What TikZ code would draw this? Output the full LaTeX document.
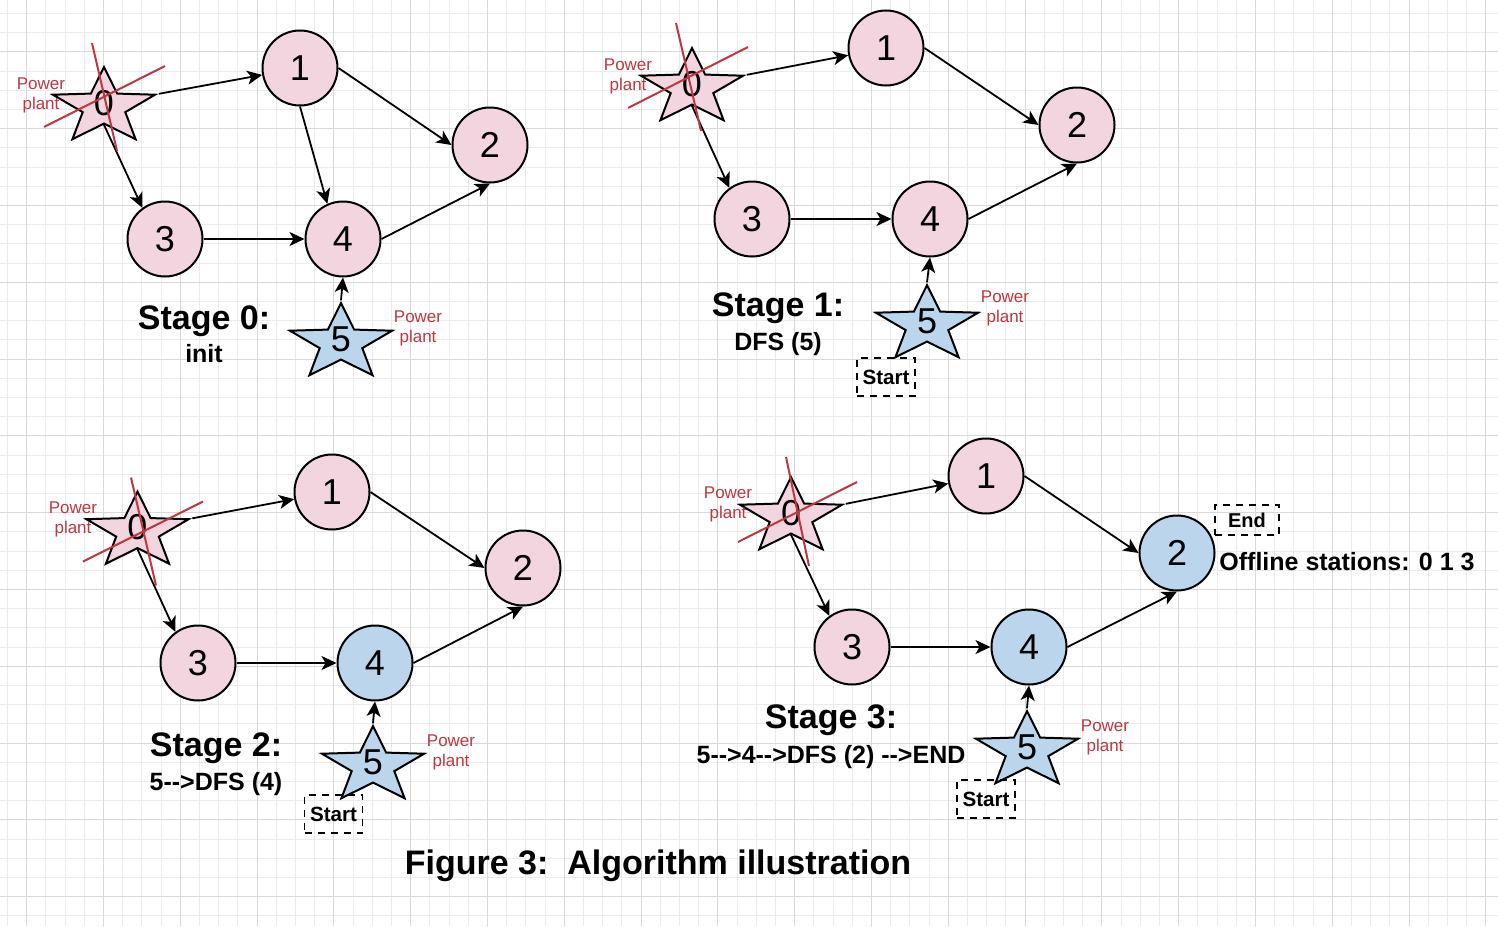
\documentclass[tikz,border=0pt]{standalone}
\usepackage{fontspec}
\setmainfont{Liberation Sans}
\usepackage{tikz}
\usetikzlibrary{shapes.geometric, arrows.meta, positioning}

\definecolor{pinkfill}{RGB}{242,213,223}
\definecolor{bluefill}{RGB}{186,213,236}
\definecolor{plantred}{RGB}{190,55,65}
\newcommand{\dashto}{-\kern0pt->}

\begin{document}
\begin{tikzpicture}[
    x=0.5pt, y=-0.5pt,
    station/.style={circle, draw, line width=1pt, minimum size=37.5pt, inner sep=0pt, fill=pinkfill, font=\fontsize{18}{20}\selectfont},
    plant/.style={star, star points=5, star point ratio=2.4, minimum size=39.8pt, inner sep=0pt, draw, line width=1pt, transform shape},
    num/.style={inner sep=0pt, font=\fontsize{18}{20}\selectfont},
    plantlabel/.style={align=center, text=plantred, inner sep=0pt, font=\fontsize{8.5}{10}\selectfont},
    stagename/.style={anchor=base, inner sep=0pt, font=\fontsize{17}{20}\selectfont\bfseries},
    stagestep/.style={anchor=base, inner sep=0pt, font=\fontsize{12.5}{15}\selectfont\bfseries},
    markbox/.style={draw, dash pattern=on 3.5pt off 3pt, line width=0.8pt, inner sep=0pt, minimum height=19pt, minimum width=29pt, font=\fontsize{10.3}{12}\selectfont\bfseries},
    arrow/.style={-{Stealth[length=7.5pt, width=7pt, inset=2pt]}, line width=0.9pt},
    crossline/.style={draw=plantred, line width=1pt},
    gridminor/.style={black!8, line width=0.5pt},
    gridmajor/.style={black!15, line width=0.5pt}
]

\useasboundingbox (0,0) rectangle (1498,926);
\fill[white] (0,0) rectangle (1498,926);
\begin{scope}[shift={(26.7,51.9)}]
  \draw[gridminor] (-26.7,874.1) grid[step=9.6pt] (1471.3,-51.9);
  \draw[gridmajor] (-26.7,874.1) grid[step=38.4pt] (1471.3,-51.9);
\end{scope}

% Stage 0
\node[station] (a1) at (300,68) {1};
\node[station] (a2) at (490,145) {2};
\node[station] (a3) at (165,239) {3};
\node[station] (a4) at (343,239) {4};
\begin{scope}[shift={(104,107)}, xscale=1.35]
  \node[plant, fill=pinkfill] (a0) {};
\end{scope}
\begin{scope}[shift={(341,343)}, xscale=1.35]
  \node[plant, fill=bluefill] (a5) {};
\end{scope}
\node[num] (a0num) at ([yshift=2pt]a0.center) {0};
\node[num] (a5num) at ([yshift=2pt]a5.center) {5};
\node[plantlabel] (a0lbl) at (41,95) {Power\\plant};
\node[plantlabel] (a5lbl) at (418,328) {Power\\plant};
\node[stagename] (astage) at (204,329) {Stage 0:};
\node[stagestep] (astep) at (204,362) {init};

\draw[arrow] (a0.outer point 5) -- (a1);
\draw[arrow] (a0.inner point 3) -- (a3.126);
\draw[arrow] (a1.east) -- (a2.west);
\draw[arrow] (a1.south) -- (a4.114);
\draw[arrow] (a3.east) -- (a4.west);
\draw[arrow] (a4.east) -- (a2.south);
\draw[arrow] (a5.outer point 1) -- (a4.south);
\draw[crossline] ([shift={(-12,-64)}]a0.center) -- ++(25,108);
\draw[crossline] ([shift={(-60,20)}]a0.center) -- ++(121,-61);

% Stage 1
\node[station] (b1) at (886,48) {1};
\node[station] (b2) at (1077,125) {2};
\node[station] (b3) at (752,219) {3};
\node[station] (b4) at (930,219) {4};
\begin{scope}[shift={(692,88)}, xscale=1.35]
  \node[plant, fill=pinkfill] (b0) {};
\end{scope}
\begin{scope}[shift={(927,325)}, xscale=1.35]
  \node[plant, fill=bluefill] (b5) {};
\end{scope}
\node[num] (b0num) at ([yshift=2pt]b0.center) {0};
\node[num] (b5num) at ([yshift=2pt]b5.center) {5};
\node[plantlabel] (b0lbl) at (628,76) {Power\\plant};
\node[plantlabel] (b5lbl) at (1005,308) {Power\\plant};
\node[stagename] (bstage) at (778,316) {Stage 1:};
\node[stagestep] (bstep) at (778,350) {DFS (5)};
\node[markbox] (bstart) at (886,377) {Start};

\draw[arrow] (b0.outer point 5) -- (b1);
\draw[arrow] (b0.inner point 3) -- (b3.126);
\draw[arrow] (b1.east) -- (b2.west);
\draw[arrow] (b3.east) -- (b4.west);
\draw[arrow] (b4.east) -- (b2.south);
\draw[arrow] (b5.outer point 1) -- (b4.south);
\draw[crossline] ([shift={(-16,-65)}]b0.center) -- ++(25,108);
\draw[crossline] ([shift={(-64,20)}]b0.center) -- ++(120,-61);

% Stage 2
\node[station] (c1) at (332,492) {1};
\node[station] (c2) at (523,568) {2};
\node[station] (c3) at (198,663) {3};
\node[station, fill=bluefill] (c4) at (375,663) {4};
\begin{scope}[shift={(137.5,531.5)}, xscale=1.35]
  \node[plant, fill=pinkfill] (c0) {};
\end{scope}
\begin{scope}[shift={(373,766)}, xscale=1.35]
  \node[plant, fill=bluefill] (c5) {};
\end{scope}
\node[num] (c0num) at ([yshift=2pt]c0.center) {0};
\node[num] (c5num) at ([yshift=2pt]c5.center) {5};
\node[plantlabel] (c0lbl) at (73,519) {Power\\plant};
\node[plantlabel] (c5lbl) at (451,752) {Power\\plant};
\node[stagename] (cstage) at (216,756) {Stage 2:};
\node[stagestep] (cstep) at (216,790) {5\dashto DFS (4)};
\node[markbox] (cstart) at (333.5,814) {Start};

\draw[arrow] (c0.outer point 5) -- (c1);
\draw[arrow] (c0.inner point 3) -- (c3.126);
\draw[arrow] (c1.east) -- (c2.west);
\draw[arrow] (c3.east) -- (c4.west);
\draw[arrow] (c4.east) -- (c2.south);
\draw[arrow] (c5.outer point 1) -- (c4.south);
\draw[crossline] ([shift={(-6.5,-54)}]c0.center) -- ++(25,108);
\draw[crossline] ([shift={(-54.5,30)}]c0.center) -- ++(120,-60);

% Stage 3
\node[station] (d1) at (986,476) {1};
\node[station, fill=bluefill] (d2) at (1177,553) {2};
\node[station] (d3) at (852,647) {3};
\node[station, fill=bluefill] (d4) at (1029,647) {4};
\begin{scope}[shift={(791,517)}, xscale=1.35]
  \node[plant, fill=pinkfill] (d0) {};
\end{scope}
\begin{scope}[shift={(1027,751)}, xscale=1.35]
  \node[plant, fill=bluefill] (d5) {};
\end{scope}
\node[num] (d0num) at ([yshift=2pt]d0.center) {0};
\node[num] (d5num) at ([yshift=2pt]d5.center) {5};
\node[plantlabel] (d0lbl) at (728,504) {Power\\plant};
\node[plantlabel] (d5lbl) at (1105,737) {Power\\plant};
\node[stagename] (dstage) at (831,728) {Stage 3:};
\node[stagestep] (dstep) at (831,763) {5\dashto 4\dashto DFS (2) \dashto END};
\node[markbox] (dstart) at (986,799) {Start};
\node[markbox, minimum width=32pt, minimum height=15pt, font=\fontsize{10}{12}\selectfont\bfseries] (dend) at (1247,520) {End};
\node[stagestep, anchor=base west] (doffline) at (1219,570) {Offline stations: 0 1 3};

\draw[arrow] (d0.outer point 5) -- (d1);
\draw[arrow] (d0.inner point 3) -- (d3.126);
\draw[arrow] (d1.east) -- (d2.west);
\draw[arrow] (d3.east) -- (d4.west);
\draw[arrow] (d4.east) -- (d2.south);
\draw[arrow] (d5.outer point 1) -- (d4.south);
\draw[crossline] ([shift={(-5,-60)}]d0.center) -- ++(23,109);
\draw[crossline] ([shift={(-53,25)}]d0.center) -- ++(119,-60);

% Caption
\node[stagename] (caption) at (658,874) {Figure 3:\ \ Algorithm illustration};

\end{tikzpicture}
\end{document}
